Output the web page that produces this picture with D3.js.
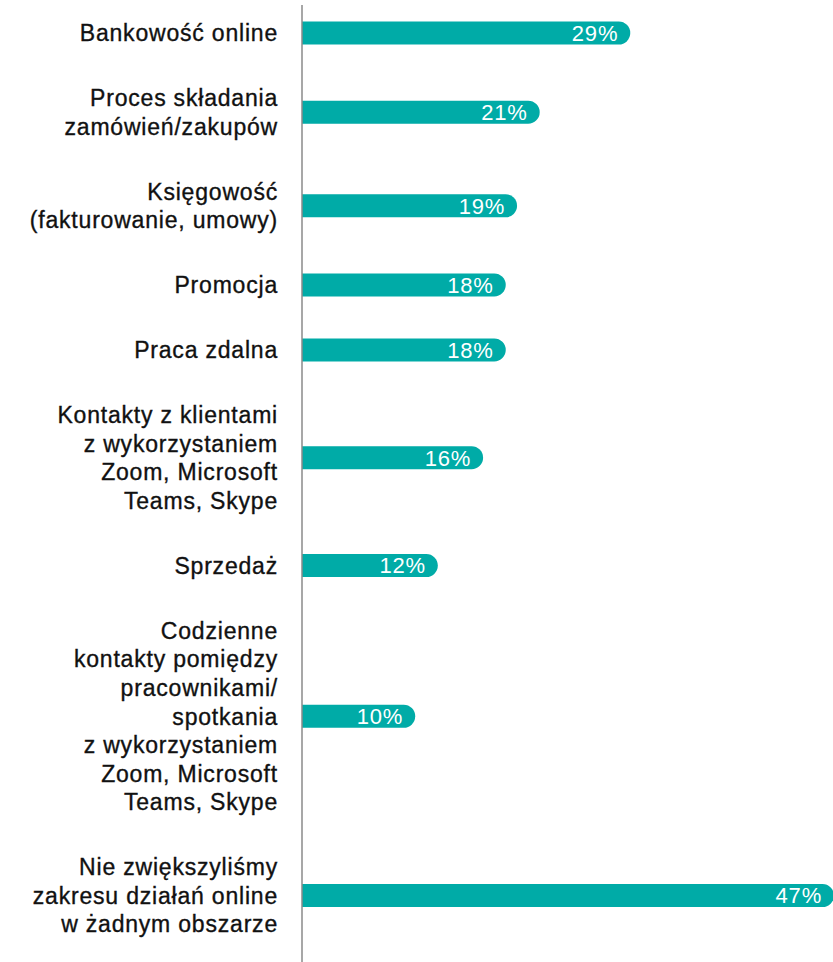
<!DOCTYPE html>
<html>
<head>
<meta charset="utf-8">
<script src="https://cdn.jsdelivr.net/npm/d3@7"></script>
<style>
  html, body { margin: 0; padding: 0; background: #fff; }
  svg { display: block; }
  text { font-family: "Liberation Sans", Arial, Helvetica, sans-serif; }
</style>
</head>
<body>
<div id="chart-area"><svg></svg></div>
<script>
// Categories, one label line per entry
const categories = [
    ["Bankowość online"],
    ["Proces składania", "zamówień/zakupów"],
    ["Księgowość", "(fakturowanie, umowy)"],
    ["Promocja"],
    ["Praca zdalna"],
    ["Kontakty z klientami", "z wykorzystaniem", "Zoom, Microsoft", "Teams, Skype"],
    ["Sprzedaż"],
    ["Codzienne", "kontakty pomiędzy", "pracownikami/", "spotkania", "z wykorzystaniem", "Zoom, Microsoft", "Teams, Skype"],
    ["Nie zwiększyliśmy", "zakresu działań online", "w żadnym obszarze"]
];
const values = [29, 21, 19, 18, 18, 16, 12, 10, 47];

const width = 833;
const height = 962;
const svg = d3.select("#chart-area").select("svg")
    .attr("width", width).attr("height", height);

const axisX = 302;
const lineH = 28.6;      // label line height
const gapLines = 1.27;   // space between categories, in label lines
const barH = 23;

// x scale
const x = d3.scaleLinear().domain([0, 47]).range([axisX, 834]);

// centre of each category in "line units", then mapped to pixels
let acc = 0;
const centres = categories.map((c, i) => {
    if (i > 0) acc += (categories[i - 1].length + c.length) / 2 + gapLines;
    return acc;
});
const y = d3.scaleLinear().domain([0, 1]).range([33, 33 + lineH]);

const g = svg.append("g");

// bars with rounded right end
function barPath(v, cy) {
    const x0 = x(0), x1 = x(v), r = barH / 2;
    const top = cy - r;
    return `M${x0},${top}H${x1 - r}A${r},${r} 0 0 1 ${x1 - r},${top + barH}H${x0}Z`;
}

g.selectAll("path.bar")
    .data(values)
    .join("path")
    .attr("class", "bar")
    .attr("d", (d, i) => barPath(d, y(centres[i])))
    .attr("fill", "#00aba7");

// value labels
g.selectAll("text.value")
    .data(values)
    .join("text")
    .attr("class", "value")
    .attr("x", d => x(d) - 12)
    .attr("y", (d, i) => y(centres[i]))
    .attr("dy", "0.36em")
    .attr("text-anchor", "end")
    .attr("fill", "#fff")
    .style("font-size", "22px")
    .style("letter-spacing", "0.8px")
    .text(d => d + "%");

// category labels
const labels = g.selectAll("text.cat")
    .data(categories)
    .join("text")
    .attr("class", "cat")
    .attr("text-anchor", "end")
    .attr("fill", "#111")
    .attr("stroke", "#111")
    .attr("stroke-width", 0.35)
    .style("font-size", "23px")
    .style("letter-spacing", "0.8px");

labels.selectAll("tspan")
    .data((d, i) => d.map((line, j) => ({ line, j, n: d.length, c: centres[i] })))
    .join("tspan")
    .attr("x", 278)
    .attr("y", d => y(d.c) + (d.j - (d.n - 1) / 2) * lineH)
    .attr("dy", "0.36em")
    .text(d => d.line);

// vertical axis line
svg.append("line")
    .attr("x1", axisX).attr("x2", axisX)
    .attr("y1", 5).attr("y2", height)
    .attr("stroke", "#8a8a8a")
    .attr("stroke-width", 1.5);
</script>
</body>
</html>
